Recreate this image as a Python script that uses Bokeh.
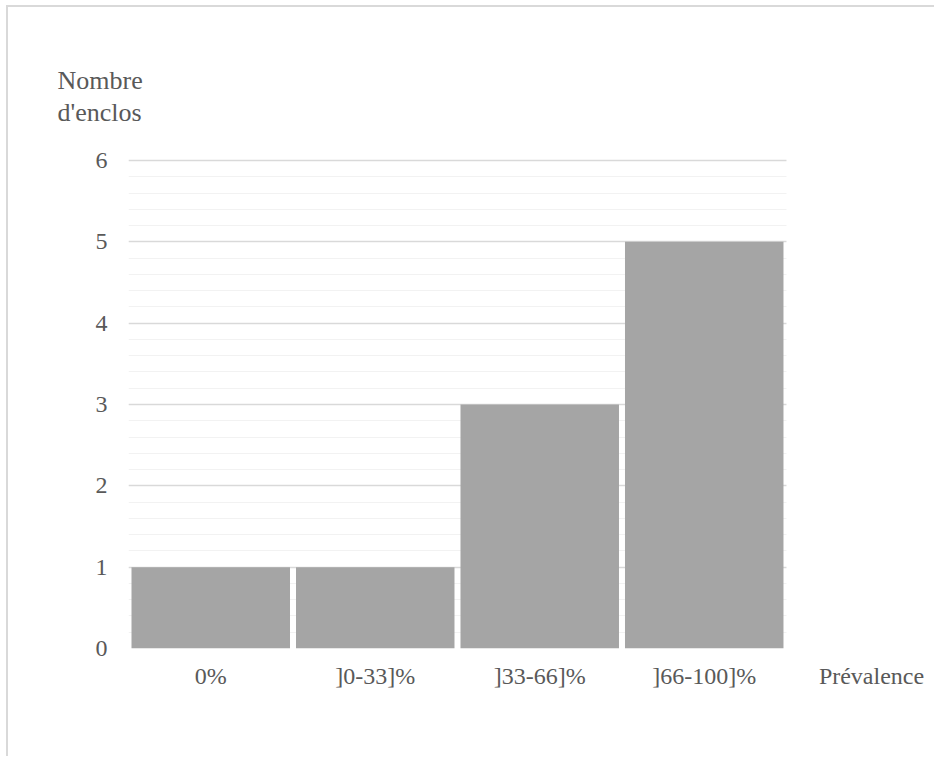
from bokeh.plotting import figure
from bokeh.models import (ColumnDataSource, Range1d, SingleIntervalTicker, FixedTicker,
                          CustomJSTickFormatter, BoxAnnotation)
from bokeh.embed import file_html
from bokeh.resources import INLINE

categories = ["0%", "]0-33]%", "]33-66]%", "]66-100]%"]
counts = [1, 1, 3, 5]
y_label_lines = ["Nombre", "d'enclos"]
x_label = "Prévalence"
y_max = 6

FONT = "Liberation Serif"
TXT = "#595959"
FS = "24px"

n_cat = len(categories)
xs = [i + 0.5 for i in range(n_cat)]
x_label_pos = n_cat + 0.517      # the x-axis name sits just right of the last category
x_end = 4.912                    # frame runs to the right edge of the page

src = ColumnDataSource(dict(x=xs, n=counts, cat=categories))

p = figure(x_range=Range1d(0, x_end), y_range=Range1d(0, y_max + 0.025),
           width=928, height=751, output_backend="svg", toolbar_location=None,
           min_border_left=120, min_border_right=0, min_border_top=151, min_border_bottom=110)
p.styles = {"margin-left": "6px", "margin-top": "5px",
            "border-left": "2px solid #D9D9D9", "border-top": "2px solid #D9D9D9"}
p.outline_line_color = None
p.background_fill_color = "white"
p.border_fill_color = "white"

p.vbar(x="x", top="n", width=0.9635, source=src, fill_color="#A5A5A5", line_color=None)

p.yaxis.ticker = SingleIntervalTicker(interval=1, num_minor_ticks=5)
p.ygrid.ticker = SingleIntervalTicker(interval=1, num_minor_ticks=5)
p.ygrid.grid_line_color = "#D9D9D9"
p.ygrid.grid_line_width = 1.5
p.ygrid.minor_grid_line_color = "#F2F2F2"
p.ygrid.minor_grid_line_width = 1.2
p.xgrid.grid_line_color = None

p.xaxis.ticker = FixedTicker(ticks=xs + [x_label_pos], minor_ticks=[])
p.xaxis.formatter = CustomJSTickFormatter(args=dict(labels=categories + [x_label]),
                                          code="return labels[index];")

for ax in (p.xaxis, p.yaxis):
    ax.axis_line_color = None
    ax.major_tick_line_color = None
    ax.minor_tick_line_color = None
    ax.major_label_text_font = FONT
    ax.major_label_text_font_size = FS
    ax.major_label_text_color = TXT
p.yaxis.major_label_standoff = 15
p.xaxis.major_label_standoff = 8

# y-axis name, top-left, as the plot title
p.title.text = "\n".join(y_label_lines)
p.title.align = "left"
p.title.offset = -71
p.title.standoff = 63
p.title.text_font = FONT
p.title.text_font_size = "26px"
p.title.text_font_style = "normal"
p.title.text_color = TXT
p.title.text_line_height = 1.1

# blank area right of the plot (where the x-axis name lives)
p.add_layout(BoxAnnotation(left=n_cat, fill_color="white", fill_alpha=1.0, line_color=None))

open("out.html", "w").write(file_html(p, INLINE))
